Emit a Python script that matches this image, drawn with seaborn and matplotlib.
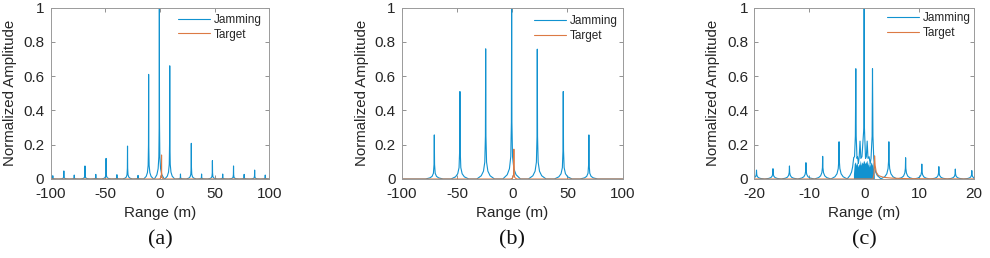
import numpy as np
import pandas as pd
import matplotlib
matplotlib.use("Agg")
import matplotlib.pyplot as plt
import seaborn as sns

# ---------------- data ----------------
# panel (a)
a_jam_pos = [-97.9, -87.8, -78.3, -68.5, -58.6, -49.2, -39.3, -29.6, -20.0, -10.3, -0.5,
             9.0, 18.8, 28.7, 38.1, 48.0, 57.4, 67.3, 77.0, 86.6, 96.3]
a_jam_h = [0.019, 0.047, 0.023, 0.076, 0.027, 0.120, 0.025, 0.192, 0.021, 0.610, 1.000,
           0.660, 0.029, 0.208, 0.029, 0.107, 0.029, 0.076, 0.027, 0.052, 0.023]
a_tgt_pos = [1.5]
a_tgt_h = [0.14]

# panel (b)
b_jam_pos = [-70.5, -47.3, -24.0, -0.5, 22.7, 46.2, 69.4]
b_jam_h = [0.257, 0.510, 0.759, 1.000, 0.757, 0.510, 0.257]
b_tgt_pos = [1.5]
b_tgt_h = [0.174]

# panel (c)
c_jam_pos = [-19.6, -16.6, -13.6, -10.6, -7.55, -4.57, 4.5, 7.55, 10.5, 13.6, 16.6, 19.6]
c_jam_h = [0.052, 0.060, 0.076, 0.095, 0.132, 0.217, 0.217, 0.124, 0.087, 0.072, 0.058, 0.049]
c_mid_x = [-2.95, -2.6, -2.3, -2.1, -1.9, -1.75, -1.6, -1.52, -1.45, -1.3, -1.2, -1.05, -0.9,
           -0.75, -0.6, -0.4, -0.05, 0.0, 0.05, 0.25, 0.4, 0.55, 0.7, 0.9, 1.1, 1.25, 1.45,
           1.52, 1.6, 1.75, 1.9, 2.1, 2.4, 2.9]
c_mid_y = [0.006, 0.02, 0.04, 0.07, 0.125, 0.13, 0.25, 0.643, 0.25, 0.12, 0.13, 0.09, 0.13,
           0.221, 0.12, 0.13, 0.3, 1.0, 0.3, 0.12, 0.13, 0.221, 0.12, 0.13, 0.09, 0.12, 0.25,
           0.643, 0.25, 0.12, 0.07, 0.04, 0.02, 0.006]
c_fill_x = [-1.95, -1.8, -1.6, -1.45, -1.3, -1.15, -1.0, -0.85, -0.7, -0.55, -0.4, -0.25, -0.1,
            0.05, 0.2, 0.35, 0.5, 0.65, 0.8, 0.95, 1.1, 1.25, 1.4, 1.55, 1.7, 1.85]
c_fill_y = [0.03, 0.09, 0.1, 0.08, 0.1, 0.07, 0.09, 0.08, 0.11, 0.08, 0.1, 0.09, 0.11,
            0.1, 0.09, 0.1, 0.11, 0.08, 0.1, 0.07, 0.09, 0.1, 0.08, 0.1, 0.06, 0.02]
c_tgt_x = [-20, 1.6, 1.8, 1.9, 2.0, 2.2, 2.6, 3.5, 5.0, 8.0, 20]
c_tgt_y = [0.0, 0.0, 0.03, 0.135, 0.08, 0.04, 0.02, 0.01, 0.005, 0.002, 0.0]

series_names = ["Jamming", "Target"]
xlims = [(-100, 100), (-100, 100), (-20, 20)]
xticks = [[-100, -50, 0, 50, 100], [-100, -50, 0, 50, 100], [-20, -10, 0, 10, 20]]
yticks = [0, 0.2, 0.4, 0.6, 0.8, 1.0]
ytick_labels = ["0", "0.2", "0.4", "0.6", "0.8", "1"]
captions = ["(a)", "(b)", "(c)"]

# ---------------- style ----------------
BLUE = "#1192d0"
ORANGE = "#DC7A44"
SKIRT_DX = [-1, -0.5, -0.25, -0.1, -0.03, 0, 0.03, 0.1, 0.25, 0.5, 1]
SKIRT_NARROW = [0, 0.025, 0.06, 0.13, 0.33, 1, 0.33, 0.13, 0.06, 0.025, 0]
SKIRT_WIDE = [0, 0.06, 0.14, 0.28, 0.5, 1, 0.5, 0.28, 0.14, 0.06, 0]


def spikes(pos, hts, w, prof):
    xs, ys = [], []
    for p, h in zip(pos, hts):
        for dx, f in zip(SKIRT_DX, prof):
            xs.append(p + dx * w)
            ys.append(h * f)
    return xs, ys


def make_df(jx, jy, tx, ty, lim):
    jx = [lim[0]] + list(jx) + [lim[1]]
    jy = [0.0] + list(jy) + [0.0]
    order = np.argsort(jx, kind="stable")
    jx = np.asarray(jx)[order]
    jy = np.asarray(jy)[order]
    if tx[0] > lim[0]:
        tx = [lim[0]] + list(tx) + [lim[1]]
        ty = [0.0] + list(ty) + [0.0]
    return pd.DataFrame({
        "x": np.concatenate([jx, tx]),
        "y": np.concatenate([jy, ty]),
        "series": [series_names[0]] * len(jx) + [series_names[1]] * len(tx),
    })


ax_, ay_ = spikes(a_jam_pos, a_jam_h, 4.5, SKIRT_NARROW)
atx, aty = spikes(a_tgt_pos, a_tgt_h, 2.0, SKIRT_NARROW)
df_a = make_df(ax_, ay_, atx, aty, xlims[0])

bx_, by_ = spikes(b_jam_pos, b_jam_h, 8.0, SKIRT_NARROW)
btx, bty = spikes(b_tgt_pos, b_tgt_h, 3.0, SKIRT_NARROW)
df_b = make_df(bx_, by_, btx, bty, xlims[1])

cx_, cy_ = spikes(c_jam_pos, c_jam_h, 1.5, SKIRT_WIDE)
df_c = make_df(cx_ + c_mid_x, cy_ + c_mid_y, c_tgt_x, c_tgt_y, xlims[2])

dfs = [df_a, df_b, df_c]

sns.set_style("white")
plt.rcParams["font.family"] = ["Liberation Sans", "DejaVu Sans"]

W, H = 990, 258
fig = plt.figure(figsize=(W / 100, H / 100), dpi=100)

ax_px = [(50.5, 269.3), (401.7, 622.7), (754.3, 974.0)]
top_px, bot_px = 7.5, 179.0
ylab_x = [-0.185, -0.181, -0.188]
leg_anchor = [(0.965, 0.964), (0.976, 0.958), (0.985, 0.974)]

for i in range(3):
    l, r = ax_px[i]
    ax = fig.add_axes([l / W, (H - bot_px) / H, (r - l) / W, (bot_px - top_px) / H])
    if i == 2:
        ax.fill_between(c_fill_x, 0, c_fill_y, color=BLUE, lw=0)
    sns.lineplot(data=dfs[i], x="x", y="y", hue="series", hue_order=series_names,
                 palette={"Jamming": BLUE, "Target": ORANGE}, sort=False,
                 estimator=None, linewidth=0.8, ax=ax)
    ax.set_xlim(*xlims[i])
    ax.set_ylim(0, 1)
    ax.set_xticks(xticks[i])
    ax.set_xticklabels([str(t) for t in xticks[i]])
    ax.set_yticks(yticks)
    ax.set_yticklabels(ytick_labels)
    ax.tick_params(direction="in", length=3, width=0.6, color="#808080",
                   labelcolor="#262626", labelsize=11, top=True, right=True,
                   bottom=True, left=True)
    ax.tick_params(axis="x", pad=5.5)
    ax.tick_params(axis="y", pad=4.5)
    for s in ax.spines.values():
        s.set_color("#9a9a9a")
        s.set_linewidth(0.7)
    ax.set_xlabel("Range (m)", fontsize=11, color="#262626", va="center")
    ax.set_ylabel("Normalized Amplitude", fontsize=10.8, color="#262626", va="center")
    ax.xaxis.set_label_coords(0.5, -34 / (bot_px - top_px))
    ax.yaxis.set_label_coords(ylab_x[i], 0.5)
    handles, labels = ax.get_legend_handles_labels()
    ax.legend(handles, labels, frameon=False, loc="upper right",
              bbox_to_anchor=leg_anchor[i], fontsize=8.5, handlelength=2.7,
              handletextpad=0.3, labelspacing=0.25, borderpad=0, borderaxespad=0)
    fig.text((l + r) / 2 / W, 1 - 240 / H, captions[i], ha="center", va="center",
             fontsize=16, family=["Liberation Serif", "DejaVu Serif"], color="#111111")

fig.savefig("out.png", dpi=100)
